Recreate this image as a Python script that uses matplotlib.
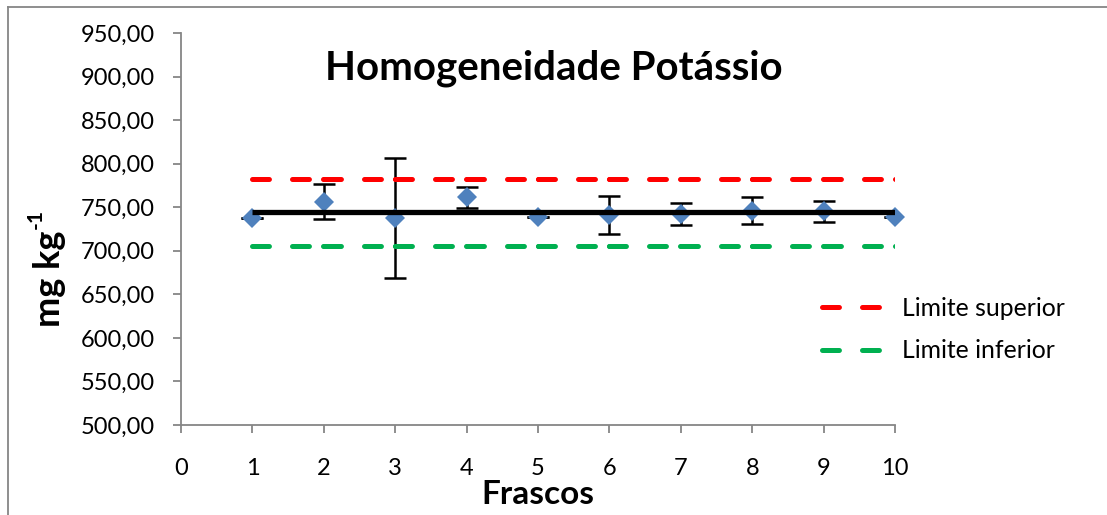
import matplotlib
matplotlib.use("Agg")
import matplotlib.pyplot as plt
from matplotlib.lines import Line2D
from matplotlib.ticker import FuncFormatter, MultipleLocator

plt.rcParams['font.family'] = ['Lato', 'DejaVu Sans']
plt.rcParams['lines.scale_dashes'] = False

# frasco number, measured K (mg/kg) and its standard deviation
frascos = [1, 2, 3, 4, 5, 6, 7, 8, 9, 10]
potassio = [737.6, 756.5, 737.5, 761.3, 738.4, 740.9, 742.2, 746.2, 745.1, 738.4]
desvio = [0.0, 20.0, 69.0, 12.3, 0.0, 22.0, 12.8, 15.3, 12.2, 0.0]

media = [744.3] * 10
lim_sup = [782.4] * 10
lim_inf = [706.0] * 10

grey = '#868686'
blue = '#4F81BD'
dash = (0, (12.2, 16.6, 12.2, 10.1))

fig = plt.figure(figsize=(11.07, 5.15), dpi=100)
ax = fig.add_axes([181 / 1107, 1 - 425 / 515, (895 - 181) / 1107, (425 - 33) / 515])

ax.errorbar(frascos, potassio, yerr=desvio, fmt='none', ecolor='black',
            elinewidth=1.8, capsize=8, capthick=1.8, zorder=2)
ax.plot(frascos, potassio, linestyle='none', marker='D', markersize=10.2,
        markerfacecolor=blue, markeredgewidth=0, zorder=3, clip_on=False)
ax.plot(frascos, media, color='black', linewidth=3.8, solid_capstyle='butt', zorder=4)

# Excel restarts the dash pattern at every point, so draw each segment alone
for i in range(len(frascos) - 1):
    ax.plot(frascos[i:i + 2], lim_sup[i:i + 2], color='#FF0000', linewidth=3.6,
            linestyle=dash, dash_capstyle='round', zorder=4)
    ax.plot(frascos[i:i + 2], lim_inf[i:i + 2], color='#00B050', linewidth=3.6,
            linestyle=dash, dash_capstyle='round', zorder=4)

ax.set_xlim(0, 10)
ax.set_ylim(500, 950)
ax.xaxis.set_major_locator(MultipleLocator(1))
ax.yaxis.set_major_locator(MultipleLocator(50))
ax.yaxis.set_major_formatter(FuncFormatter(lambda v, p: f"{v:.2f}".replace('.', ',')))

for s in ['top', 'right']:
    ax.spines[s].set_visible(False)
for s in ['left', 'bottom']:
    ax.spines[s].set_color(grey)
    ax.spines[s].set_linewidth(1.3)
ax.tick_params(axis='both', direction='out', length=6, width=1.3, color=grey,
               labelsize=17)
ax.tick_params(axis='y', pad=13)
ax.tick_params(axis='x', pad=18)

handles = [Line2D([], [], color='#FF0000', linewidth=3.6, linestyle=dash, dash_capstyle='round'),
           Line2D([], [], color='#00B050', linewidth=3.6, linestyle=dash, dash_capstyle='round')]
ax.legend(handles, ['Limite superior', 'Limite inferior'], loc='center left',
          bbox_to_anchor=(822 / 1107, 1 - 329.5 / 515), bbox_transform=fig.transFigure,
          frameon=False, fontsize=17.8, handlelength=2.35, handletextpad=0.88,
          labelspacing=0.8, borderpad=0, borderaxespad=0)

fig.text(554 / 1107, 1 - 68 / 515, 'Homogeneidade Potássio', ha='center', va='center',
         fontsize=29, fontweight='bold')
fig.text(538 / 1107, 1 - 494 / 515, 'Frascos', ha='center', va='center',
         fontsize=24, fontweight='bold')

# y label with a hand-placed superscript
fig.text(49 / 1107, 1 - 279 / 515, 'mg kg', ha='center', va='center',
         rotation=90, fontsize=26, fontweight='bold')
fig.text(36 / 1107, 1 - 219 / 515, '-1', ha='center', va='center',
         rotation=90, fontsize=15, fontweight='bold')

# outer chart frame
fig.add_artist(Line2D([8 / 1107, 8 / 1107], [0, 1 - 7 / 515], color=grey, linewidth=1.3))
fig.add_artist(Line2D([8 / 1107, 1], [1 - 7 / 515, 1 - 7 / 515], color=grey, linewidth=1.3))

fig.savefig('out.png', dpi=100)
